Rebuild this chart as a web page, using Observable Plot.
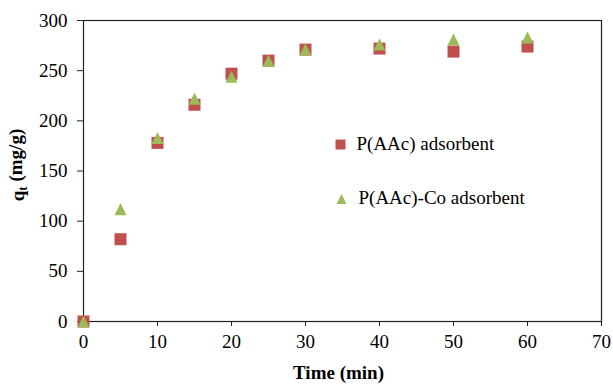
<!DOCTYPE html>
<html>
<head>
<meta charset="utf-8">
<script src="https://cdn.jsdelivr.net/npm/d3@7"></script>
<script src="https://cdn.jsdelivr.net/npm/@observablehq/plot@0.6"></script>
<style>
  html, body { margin: 0; padding: 0; background: #fff; }
</style>
</head>
<body>
<div id="chart"></div>
<script>
const times = [0, 5, 10, 15, 20, 25, 30, 40, 50, 60];
const qPAAc = [0, 82, 178, 216, 247, 260, 271, 272, 269, 274];
const qPAAcCo = [0, 112, 183, 222, 244, 260, 271, 276, 281, 283];
const seriesNames = ["P(AAc) adsorbent", "P(AAc)-Co adsorbent"];
const seriesColors = ["#C0504D", "#9BBB59"];
const xTicks = [0, 10, 20, 30, 40, 50, 60, 70];
const yTicks = [0, 50, 100, 150, 200, 250, 300];
const xTitle = "Time (min)";
const yTitle = "qt (mg/g)";

const rowsA = times.map((t, i) => ({time: t, q: qPAAc[i]}));
const rowsB = times.map((t, i) => ({time: t, q: qPAAcCo[i]}));

const tri = {
  draw(context, size) {
    const w = Math.sqrt(2 * size), h = w;
    context.moveTo(0, -h / 2);
    context.lineTo(w / 2, h / 2);
    context.lineTo(-w / 2, h / 2);
    context.closePath();
  }
};

const font = "Liberation Serif";

const chart = Plot.plot({
  width: 613,
  height: 385,
  marginLeft: 83,
  marginRight: 12,
  marginTop: 20,
  marginBottom: 64,
  style: {fontFamily: font, fontSize: "19px", color: "#000", background: "#fff"},
  x: {domain: [0, 70]},
  y: {domain: [0, 300]},
  marks: [
    Plot.frame({stroke: "#222", strokeWidth: 1.2}),
    Plot.axisX({ticks: xTicks, tickSize: 5, tickPadding: 8, label: null, fontSize: 19, fontFamily: font, stroke: "#222"}),
    Plot.axisY({ticks: yTicks, tickSize: 6, tickPadding: 10, label: null, fontSize: 19, fontFamily: font, stroke: "#222"}),
    Plot.dot(rowsA, {x: "time", y: "q", symbol: "square", r: 6.77, fill: seriesColors[0], stroke: null}),
    Plot.dot(rowsB, {x: "time", y: "q", symbol: tri, r: 4.79, fill: seriesColors[1], stroke: null}),
    // legend
    Plot.dot([seriesNames[0]], {frameAnchor: "top-left", dx: 257, dy: 124, symbol: "square", r: 5.64, fill: seriesColors[0]}),
    Plot.text([seriesNames[0]], {frameAnchor: "top-left", dx: 273, dy: 123.5, textAnchor: "start", lineAnchor: "middle", fontSize: 19, fontFamily: font}),
    Plot.dot([seriesNames[1]], {frameAnchor: "top-left", dx: 258, dy: 178.5, symbol: tri, r: 4.0, fill: seriesColors[1]}),
    Plot.text([seriesNames[1]], {frameAnchor: "top-left", dx: 275, dy: 177, textAnchor: "start", lineAnchor: "middle", fontSize: 19, fontFamily: font}),
    // axis titles
    Plot.text([xTitle], {frameAnchor: "bottom", dx: -4, dy: 51, textAnchor: "middle", lineAnchor: "middle", fontWeight: "bold", fontSize: 19, fontFamily: font}),
    Plot.text([yTitle], {frameAnchor: "left", dx: -66, dy: -6, rotate: -90, textAnchor: "middle", lineAnchor: "middle", fontWeight: "bold", fontSize: 19, fontFamily: font})
  ]
});

// subscript for q_t
d3.select(chart).selectAll("text").filter(function() { return this.textContent === yTitle; })
  .each(function() {
    const t = d3.select(this);
    t.text(null);
    t.append("tspan").text("q");
    t.append("tspan").attr("font-size", "13px").attr("dy", "0.3em").text("t");
    t.append("tspan").attr("dy", "-0.3em").text(" (mg/g)");
  });

document.getElementById("chart").appendChild(chart);
</script>
</body>
</html>
